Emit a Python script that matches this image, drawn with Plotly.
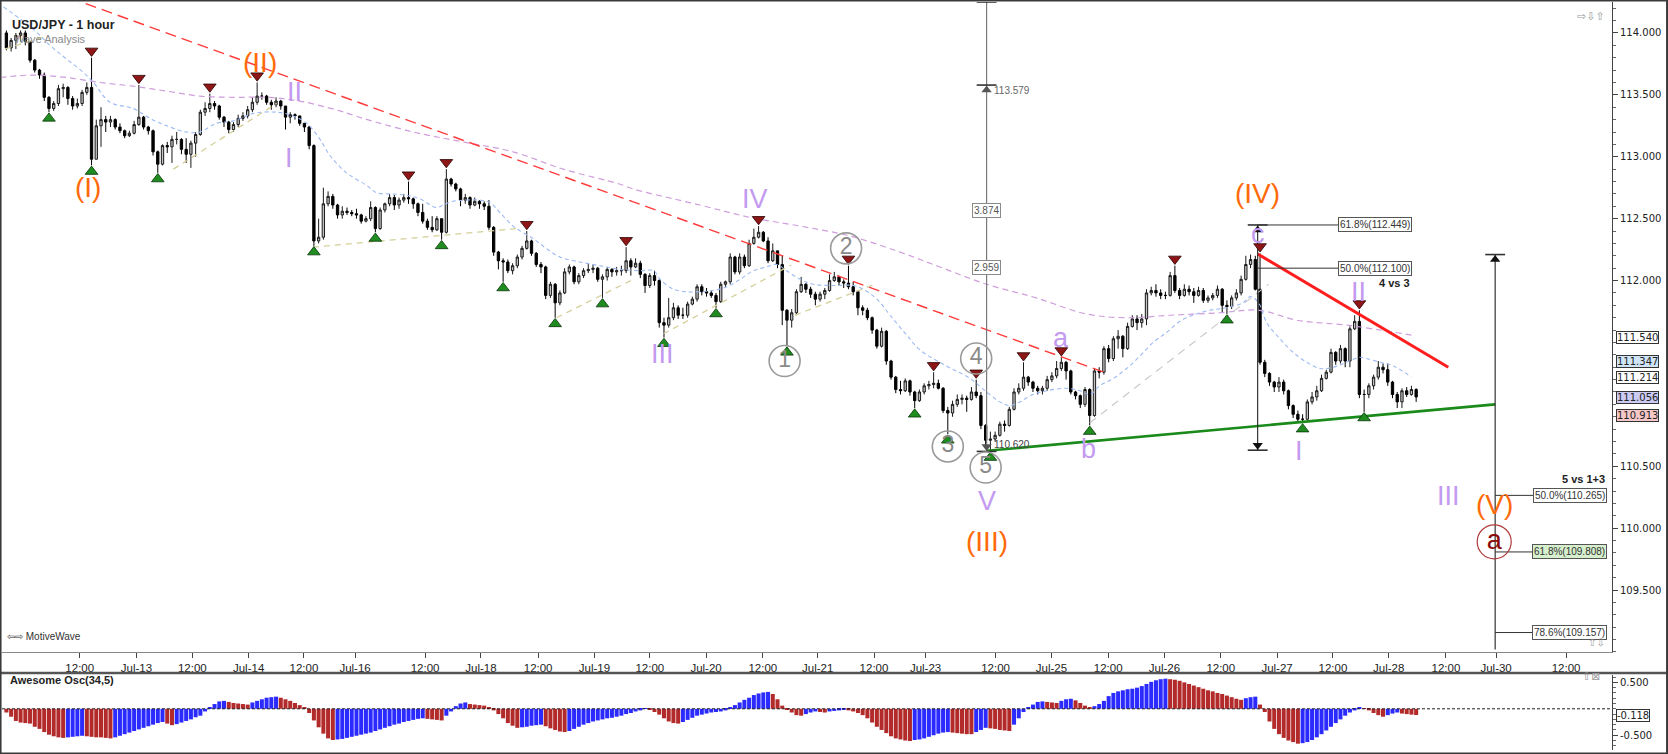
import plotly.graph_objects as go

FONT = "Liberation Sans, Arial, sans-serif"
AXFONT = "DejaVu Sans, Verdana, sans-serif"

# ── Hourly USD/JPY candles (x = bar number, weekend hours skipped) ─────────────
first_open = 114.00
closes = [
    113.88, 113.94, 113.98, 114.00, 113.93, 113.78, 113.70, 113.66, 113.48, 113.39,
    113.43, 113.55, 113.56, 113.47, 113.41, 113.43, 113.52, 113.56, 112.98, 113.25,
    113.30, 113.28, 113.30, 113.24, 113.21, 113.17, 113.19, 113.26, 113.32, 113.24,
    113.21, 113.04, 112.94, 113.09, 113.08, 113.14, 113.14, 113.06, 113.02, 113.11,
    113.18, 113.36, 113.39, 113.43, 113.41, 113.32, 113.28, 113.22, 113.26, 113.31,
    113.33, 113.38, 113.44, 113.49, 113.49, 113.44, 113.42, 113.45, 113.41, 113.32,
    113.34, 113.33, 113.27, 113.24, 113.09, 112.32, 112.35, 112.62, 112.68, 112.61,
    112.53, 112.56, 112.55, 112.54, 112.53, 112.48, 112.50, 112.59, 112.42, 112.57,
    112.62, 112.67, 112.61, 112.65, 112.67, 112.66, 112.62, 112.55, 112.48, 112.43,
    112.41, 112.50, 112.39, 112.82, 112.78, 112.74, 112.65, 112.67, 112.61, 112.64,
    112.62, 112.60, 112.43, 112.23, 112.16, 112.15, 112.08, 112.12, 112.19, 112.26,
    112.32, 112.22, 112.13, 112.11, 111.88, 111.97, 111.82, 111.90, 112.07, 112.11,
    111.99, 112.04, 112.08, 112.09, 112.10, 112.01, 112.03, 112.09, 112.07, 112.08,
    112.08, 112.16, 112.11, 112.14, 112.05, 111.96, 112.04, 112.00, 111.66, 111.64,
    111.70, 111.78, 111.72, 111.72, 111.81, 111.85, 111.95, 111.91, 111.90, 111.88,
    111.83, 111.97, 111.99, 112.19, 112.07, 112.19, 112.12, 112.30, 112.35, 112.39,
    112.32, 112.16, 112.24, 112.13, 111.76, 111.68, 111.74, 111.91, 111.97, 111.93,
    111.89, 111.85, 111.89, 111.92, 112.00, 112.03, 111.99, 111.98, 111.95, 111.91,
    111.78, 111.76, 111.70, 111.60, 111.47, 111.59, 111.35, 111.22, 111.12, 111.11,
    111.19, 111.10, 111.03, 111.10, 111.15, 111.16, 111.17, 111.13, 110.95, 110.93,
    111.00, 111.04, 111.05, 111.04, 111.10, 111.07, 110.83, 110.71, 110.72, 110.75,
    110.84, 110.83, 110.96, 111.10, 111.13, 111.22, 111.18, 111.13, 111.11, 111.13,
    111.20, 111.23, 111.29, 111.34, 111.27, 111.10, 111.07, 111.00, 111.12, 110.91,
    111.27, 111.26, 111.45, 111.37, 111.53, 111.55, 111.45, 111.63, 111.69, 111.66,
    111.69, 111.90, 111.92, 111.90, 111.88, 111.88, 112.04, 111.92, 111.88, 111.93,
    111.91, 111.88, 111.92, 111.84, 111.86, 111.88, 111.93, 111.80, 111.79, 111.86,
    111.90, 112.01, 112.13, 112.17, 111.93, 111.34, 111.25, 111.18, 111.14, 111.18,
    111.11, 110.99, 110.92, 110.88, 110.88, 111.02, 111.06, 111.11, 111.21, 111.26,
    111.42, 111.35, 111.45, 111.35, 111.61, 111.67, 111.08, 111.08, 111.15, 111.22,
    111.30, 111.28, 111.18, 111.08, 111.02, 111.11, 111.08, 111.12, 111.06,
]
highs = [
    114.02, 113.96, 114.00, 114.02, 114.02, 113.93, 113.79, 113.71, 113.68, 113.49,
    113.45, 113.58, 113.59, 113.57, 113.49, 113.47, 113.54, 113.60, 113.80, 113.30,
    113.40, 113.33, 113.33, 113.31, 113.27, 113.22, 113.21, 113.29, 113.58, 113.33,
    113.25, 113.22, 113.05, 113.10, 113.12, 113.17, 113.20, 113.15, 113.15, 113.13,
    113.20, 113.38, 113.44, 113.51, 113.45, 113.42, 113.33, 113.29, 113.28, 113.34,
    113.36, 113.41, 113.48, 113.60, 113.52, 113.50, 113.46, 113.48, 113.46, 113.41,
    113.36, 113.35, 113.33, 113.27, 113.25, 113.10, 112.50, 112.75, 112.72, 112.70,
    112.62, 112.60, 112.59, 112.57, 112.58, 112.54, 112.52, 112.64, 112.60, 112.59,
    112.63, 112.70, 112.69, 112.67, 112.70, 112.80, 112.67, 112.63, 112.62, 112.50,
    112.52, 112.52, 112.50, 112.90, 112.83, 112.79, 112.75, 112.70, 112.68, 112.67,
    112.65, 112.64, 112.65, 112.44, 112.24, 112.18, 112.17, 112.14, 112.21, 112.28,
    112.40, 112.33, 112.23, 112.15, 112.12, 111.99, 111.98, 111.92, 112.10, 112.13,
    112.12, 112.06, 112.10, 112.14, 112.13, 112.11, 112.05, 112.11, 112.10, 112.11,
    112.12, 112.27, 112.18, 112.18, 112.16, 112.06, 112.06, 112.08, 112.01, 111.70,
    111.86, 111.82, 111.80, 111.78, 111.83, 111.87, 111.97, 111.97, 111.94, 111.92,
    111.90, 111.99, 112.00, 112.22, 112.20, 112.22, 112.21, 112.33, 112.42, 112.44,
    112.40, 112.35, 112.30, 112.24, 112.20, 111.77, 111.77, 111.93, 112.03, 111.98,
    111.95, 111.91, 111.91, 111.94, 112.05, 112.07, 112.04, 112.01, 112.12, 111.99,
    111.92, 111.80, 111.78, 111.71, 111.61, 111.62, 111.60, 111.36, 111.23, 111.19,
    111.21, 111.20, 111.11, 111.12, 111.17, 111.19, 111.26, 111.20, 111.14, 110.98,
    111.03, 111.08, 111.08, 111.07, 111.14, 111.20, 111.10, 110.84, 110.78, 110.78,
    110.86, 110.87, 110.98, 111.13, 111.17, 111.34, 111.23, 111.19, 111.15, 111.15,
    111.23, 111.26, 111.35, 111.38, 111.35, 111.28, 111.11, 111.08, 111.14, 111.13,
    111.29, 111.30, 111.47, 111.48, 111.55, 111.60, 111.56, 111.66, 111.72, 111.72,
    111.73, 111.93, 111.95, 111.97, 111.93, 111.91, 112.07, 112.12, 111.94, 111.97,
    111.96, 111.94, 111.95, 111.94, 111.88, 111.90, 111.96, 111.94, 111.84, 111.88,
    111.93, 112.04, 112.20, 112.21, 112.20, 112.22, 111.36, 111.26, 111.19, 111.22,
    111.20, 111.12, 111.00, 110.95, 110.92, 111.04, 111.10, 111.15, 111.24, 111.28,
    111.45, 111.43, 111.48, 111.46, 111.63, 111.72, 111.76, 111.12, 111.17, 111.24,
    111.35, 111.33, 111.33, 111.19, 111.10, 111.13, 111.14, 111.15, 111.13,
]
lows = [
    113.86, 113.85, 113.87, 113.93, 113.90, 113.76, 113.68, 113.63, 113.45, 113.36,
    113.37, 113.41, 113.48, 113.42, 113.38, 113.39, 113.41, 113.50, 112.93, 112.98,
    113.08, 113.20, 113.24, 113.22, 113.19, 113.15, 113.16, 113.18, 113.25, 113.22,
    113.18, 113.01, 112.87, 112.93, 113.03, 112.95, 113.10, 113.02, 112.95, 112.91,
    113.00, 113.17, 113.33, 113.36, 113.38, 113.30, 113.24, 113.19, 113.20, 113.24,
    113.29, 113.31, 113.36, 113.42, 113.46, 113.42, 113.38, 113.40, 113.38, 113.22,
    113.27, 113.30, 113.25, 113.20, 113.06, 112.28, 112.30, 112.33, 112.60, 112.58,
    112.50, 112.50, 112.53, 112.52, 112.50, 112.46, 112.47, 112.48, 112.39, 112.41,
    112.55, 112.60, 112.57, 112.58, 112.63, 112.62, 112.58, 112.52, 112.46, 112.41,
    112.39, 112.40, 112.33, 112.38, 112.76, 112.72, 112.60, 112.62, 112.58, 112.60,
    112.58, 112.57, 112.41, 112.20, 112.09, 111.99, 112.06, 112.05, 112.10, 112.17,
    112.25, 112.20, 112.11, 112.06, 111.85, 111.86, 111.70, 111.80, 111.89, 112.05,
    111.97, 111.97, 112.02, 112.06, 112.06, 111.99, 111.86, 112.00, 112.03, 112.04,
    112.04, 112.06, 112.04, 112.10, 112.02, 111.90, 111.94, 111.96, 111.62, 111.54,
    111.62, 111.68, 111.69, 111.69, 111.70, 111.80, 111.83, 111.88, 111.87, 111.86,
    111.78, 111.82, 111.95, 111.97, 112.05, 112.05, 112.10, 112.11, 112.29, 112.34,
    112.31, 112.14, 112.15, 112.10, 111.64, 111.47, 111.62, 111.72, 111.90, 111.90,
    111.86, 111.80, 111.83, 111.85, 111.91, 111.99, 111.96, 111.94, 111.93, 111.88,
    111.72, 111.72, 111.68, 111.57, 111.45, 111.46, 111.32, 111.20, 111.09, 111.08,
    111.10, 111.07, 110.97, 111.02, 111.08, 111.12, 111.13, 111.12, 110.93, 110.76,
    110.90, 110.98, 111.00, 110.94, 111.03, 111.05, 110.80, 110.66, 110.62, 110.70,
    110.74, 110.78, 110.82, 110.95, 111.08, 111.11, 111.15, 111.10, 111.08, 111.08,
    111.11, 111.18, 111.21, 111.27, 111.20, 111.08, 111.04, 110.97, 110.98, 110.83,
    110.90, 111.21, 111.24, 111.34, 111.35, 111.45, 111.38, 111.44, 111.62, 111.60,
    111.62, 111.64, 111.88, 111.87, 111.85, 111.85, 111.87, 111.90, 111.85, 111.87,
    111.88, 111.82, 111.87, 111.82, 111.82, 111.84, 111.86, 111.74, 111.73, 111.77,
    111.84, 111.88, 112.00, 112.10, 111.92, 111.32, 111.22, 111.15, 111.10, 111.10,
    111.08, 110.96, 110.89, 110.86, 110.85, 110.87, 111.00, 111.03, 111.10, 111.20,
    111.25, 111.32, 111.33, 111.30, 111.30, 111.60, 111.05, 110.94, 111.05, 111.12,
    111.20, 111.25, 111.15, 111.05, 110.97, 110.97, 111.06, 111.07, 111.02,
]

# Awesome Oscillator (34,5), one value per bar
ao_values = [
    -0.07, -0.15, -0.23, -0.26, -0.27, -0.28, -0.34, -0.38, -0.44, -0.49, -0.52, -0.54,
    -0.55, -0.54, -0.53, -0.52, -0.51,
    -0.52, -0.53, -0.54, -0.54, -0.55, -0.56,
    -0.54, -0.51, -0.48, -0.45, -0.42, -0.39, -0.36, -0.33, -0.30, -0.27, -0.25,
    -0.28, -0.31,
    -0.29, -0.26, -0.23, -0.20, -0.16, -0.13, -0.05,
    0.03, 0.09, 0.14, 0.15,
    0.13, 0.11, 0.10, 0.09, 0.08,
    0.12, 0.15, 0.18, 0.21, 0.22, 0.23,
    0.21, 0.18, 0.15, 0.11, 0.07, 0.03,
    -0.08, -0.22, -0.35, -0.47, -0.56, -0.59,
    -0.58, -0.57, -0.55, -0.53, -0.51, -0.49, -0.47, -0.45, -0.42, -0.39,
    -0.36, -0.33, -0.30, -0.28, -0.25, -0.23, -0.21, -0.19, -0.18,
    -0.19, -0.20, -0.21, -0.22,
    -0.13, -0.05,
    0.05, 0.10, 0.12,
    0.09, 0.08, 0.07, 0.06, 0.02,
    -0.03, -0.10, -0.18, -0.27, -0.32, -0.36,
    -0.35, -0.34, -0.32, -0.31, -0.30,
    -0.33, -0.37, -0.40, -0.43, -0.44,
    -0.42, -0.38, -0.34, -0.30, -0.27, -0.24, -0.22, -0.20, -0.18, -0.17,
    -0.15, -0.13, -0.10, -0.08, -0.05, -0.03,
    0.01,
    -0.01,
    -0.06, -0.11, -0.18, -0.24, -0.27, -0.28,
    -0.25, -0.21, -0.17, -0.13, -0.11, -0.09, -0.07, -0.06, -0.05, -0.03,
    0.03, 0.07, 0.12, 0.17, 0.21, 0.26, 0.29, 0.31, 0.32,
    0.28, 0.18, 0.06, -0.02,
    -0.07, -0.12, -0.13,
    -0.10, -0.07, -0.05,
    -0.06, -0.07, -0.05, -0.04, -0.03, -0.02, -0.03,
    -0.05, -0.08, -0.12, -0.18, -0.26, -0.34, -0.40, -0.46, -0.52, -0.56, -0.58, -0.60, -0.61,
    -0.59, -0.58, -0.56, -0.53, -0.50, -0.47, -0.45, -0.44,
    -0.45, -0.46, -0.47, -0.48, -0.48,
    -0.44, -0.40, -0.36,
    -0.37, -0.38, -0.40, -0.41, -0.42,
    -0.30, -0.18, -0.06, 0.03,
    0.08, 0.13, 0.14,
    0.13, 0.12, 0.11,
    0.15, 0.18, 0.19,
    0.16, 0.11, 0.06, 0.03,
    0.05, 0.09,
    0.15, 0.24, 0.30, 0.33, 0.35, 0.37, 0.38, 0.40, 0.43, 0.47, 0.51, 0.54, 0.56, 0.57,
    0.56, 0.55, 0.53, 0.50, 0.47, 0.44, 0.41, 0.38, 0.35, 0.33, 0.30, 0.28, 0.25, 0.22,
    0.19, 0.17,
    0.20, 0.22, 0.23,
    0.08,
    -0.06, -0.24, -0.38, -0.48, -0.55, -0.60, -0.63, -0.66,
    -0.65, -0.63, -0.59, -0.54, -0.48, -0.41, -0.34, -0.27, -0.20, -0.13, -0.07, -0.03,
    0.03,
    0.01, -0.03, -0.08, -0.12, -0.15,
    -0.12, -0.09, -0.07,
    -0.09, -0.10, -0.11, -0.118,
]

# time axis labels
tick_bars = [15.5, 27.5, 39.3, 51.2, 62.9, 73.7, 88.5, 100.3, 112.4, 124.3, 136.0,
             147.9, 159.9, 171.5, 183.4, 194.3, 209.1, 220.9, 232.9, 244.8, 256.7,
             268.6, 280.4, 292.2, 304.3, 314.9, 329.7]
tick_labels = ["12:00", "Jul-13", "12:00", "Jul-14", "12:00", "Jul-16", "12:00", "Jul-18",
               "12:00", "Jul-19", "12:00", "Jul-20", "12:00", "Jul-21", "12:00", "Jul-23",
               "12:00", "Jul-25", "12:00", "Jul-26", "12:00", "Jul-27", "12:00", "Jul-28",
               "12:00", "Jul-30", "12:00"]
# price labels shown on the axis (111.000 / 111.500 sit under the price tags)
price_ticks = [109.5, 110.0, 110.5, 112.0, 112.5, 113.0, 113.5, 114.0]

# moving averages as drawn on the chart
blue_ma_bars = [-0.6, 5.7, 9.2, 12.7, 16.3, 18.4, 21.9, 26.8, 30.4, 33.9, 38.1, 40.9, 44.4,
                48.0, 52.2, 57.1, 60.6, 63.5, 66.3, 68.4, 71.9, 76.1, 78.2, 81.0, 84.6, 87.4,
                90.9, 92.3, 94.4, 97.2, 100.1, 102.2, 104.3, 107.1, 111.3, 114.1, 117.0,
                121.2, 125.4, 129.7, 134.0, 136.8, 138.2, 141.0, 143.8, 146.6, 149.4, 152.3,
                155.1, 157.9, 160.7, 162.8, 164.9, 167.8, 170.6, 174.8, 179.0, 181.1, 184.0,
                186.8, 190.3, 193.1, 198.7, 203.7, 207.2, 210.0, 212.1, 214.2, 217.0, 219.9,
                224.1, 226.9, 229.0, 231.1, 234.0, 236.8, 239.6, 242.4, 245.2, 248.0, 250.8,
                254.4, 257.9, 261.4, 263.0, 264.7, 266.4, 269.2, 272.0, 274.9, 277.7, 280.5,
                283.3, 286.1, 287.5, 290.4, 293.2, 297.0]
blue_ma_vals = [114.21, 114.03, 113.90, 113.79, 113.68, 113.60, 113.44, 113.39, 113.31,
                113.25, 113.20, 113.20, 113.27, 113.29, 113.35, 113.36, 113.33, 113.27,
                113.14, 113.01, 112.87, 112.77, 112.71, 112.70, 112.69, 112.66, 112.59,
                112.61, 112.64, 112.65, 112.65, 112.63, 112.55, 112.44, 112.34, 112.26,
                112.19, 112.15, 112.12, 112.09, 112.08, 112.08, 112.01, 111.93, 111.91,
                111.91, 111.92, 111.95, 112.01, 112.08, 112.11, 112.13, 112.08, 112.01,
                111.97, 111.96, 111.96, 111.93, 111.85, 111.72, 111.56, 111.44, 111.31,
                111.21, 111.10, 111.02, 110.99, 111.02, 111.08, 111.11, 111.13, 111.11,
                111.08, 111.15, 111.21, 111.29, 111.39, 111.50, 111.58, 111.67, 111.72,
                111.76, 111.78, 111.82, 111.87, 111.82, 111.66, 111.53, 111.42, 111.34,
                111.29, 111.30, 111.34, 111.38, 111.37, 111.34, 111.31, 111.22]
purple_ma_bars = [-1.3, 5.7, 12.7, 19.8, 26.8, 33.9, 40.9, 48.0, 55.0, 62.0, 70.5, 75.4,
                  86.0, 96.5, 107.1, 117.7, 129.6, 132.5, 146.6, 157.2, 167.8, 178.3,
                  188.9, 197.3, 207.2, 217.7, 228.3, 236.8, 245.9, 256.5, 264.9, 272.7,
                  283.3, 297.0]
purple_ma_vals = [113.64, 113.66, 113.64, 113.60, 113.57, 113.53, 113.49, 113.48, 113.48,
                  113.45, 113.37, 113.31, 113.20, 113.12, 113.04, 112.90, 112.78, 112.74,
                  112.61, 112.51, 112.44, 112.36, 112.23, 112.11, 111.97, 111.86, 111.73,
                  111.70, 111.72, 111.74, 111.76, 111.68, 111.64, 111.56]

# hand-drawn trend lines: [start, end] pairs
red_dash_bars = [10, 232]
red_dash_prices = [114.33, 111.26]
beige_bars = [[-0.3, 7.5], [35.3, 57.1], [64.8, 107.8], [116.3, 132.5], [138.9, 165.9], [166.7, 183.6]]
beige_prices = [[113.87, 113.965], [112.90, 113.43], [112.27, 112.42], [111.70, 112.01],
                [111.57, 112.126], [111.72, 111.97]]
gray_dash_bars = [229, 266.8]
gray_dash_prices = [110.85, 111.97]
green_line_bars = [207.2, 314.7]
green_line_prices = [110.625, 111.00]
red_line_bars = [264.5, 304.8]
red_line_prices = [112.215, 111.30]

# swing markers
swing_high_bars = [18, 28, 43, 53, 85, 93, 110, 131, 159, 178, 196, 205, 215, 223, 247, 265, 286]
swing_low_bars = [9, 18, 32, 65, 78, 92, 105, 116, 126, 139, 150, 165, 192, 199, 208, 229, 258, 274, 287]

# wave labels
orange_labels = ["(I)", "(II)", "(III)", "(IV)", "(V)"]
orange_bars = [17.3, 53.7, 207.2, 264.5, 314.5]
orange_prices = [112.75, 113.76, 109.89, 112.70, 110.19]
purple_labels = ["I", "II", "III", "IV", "V", "a", "b", "c", "I", "II", "III"]
purple_bars = [59.8, 60.9, 138.7, 158.2, 207.2, 222.9, 228.7, 264.5, 273.3, 285.9, 304.8]
purple_prices = [112.99, 113.52, 111.41, 112.66, 110.22, 111.54, 110.64, 112.38, 110.62, 111.91, 110.26]
circle_labels = ["1", "2", "3", "4", "5"]
circle_bars = [164.5, 177.5, 199.0, 205.0, 207.0]
circle_prices = [111.35, 112.26, 110.66, 111.37, 110.49]

# measuring tool
measure_bars = [207.2, 264.5, 314.7]
measure_tops = [114.25, 112.449, 112.21]
measure_bottoms = [110.62, 110.63, 109.02]
target_price = 113.579
range_boxes = ["3.874", "2.959"]
range_box_prices = [112.565, 112.107]
fib_labels = ["61.8%(112.449)", "50.0%(112.100)", "50.0%(110.265)", "61.8%(109.808)", "78.6%(109.157)"]
fib_prices = [112.449, 112.100, 110.265, 109.808, 109.157]
fib_start_bars = [264.5, 264.5, 314.7, 314.7, 314.7]
fib_box_bars = [289.2, 289.2, 330.5, 330.5, 330.5]
fib_box_fills = ["#ffffff", "#ffffff", "#ffffff", "#d6efcc", "#ffffff"]

# price tags on the right axis
tag_prices = [111.540, 111.347, 111.214, 111.056, 110.913]
tag_fills = ["#ffffff", "#cfe5f5", "#ffffff", "#cbcbf3", "#f5c7c7"]

# ── build ─────────────────────────────────────────────────────────────────────
n = len(closes)
bars = list(range(n))
opens = [first_open] + closes[:-1]  # each hour opens where the previous one closed


def segments(xpairs, ypairs):
    xs, ys = [], []
    for xp, yp in zip(xpairs, ypairs):
        xs += list(xp) + [None]
        ys += list(yp) + [None]
    return xs, ys


def line(x, y, color, width, dash="solid", shape="linear"):
    return go.Scatter(x=x, y=y, mode="lines", hoverinfo="skip",
                      line=dict(color=color, width=width, dash=dash, shape=shape),
                      xaxis="x", yaxis="y")


fig = go.Figure()

fig.add_trace(line(purple_ma_bars, purple_ma_vals, "#cf9edc", 1.2, "6px,4px", "spline"))
fig.add_trace(line(blue_ma_bars, blue_ma_vals, "#9dbaf2", 1.1, "4px,3px", "spline"))
fig.add_trace(line(red_dash_bars, red_dash_prices, "#ff3b3b", 1.4, "11px,6px"))
bx, by = segments(beige_bars, beige_prices)
fig.add_trace(line(bx, by, "#d4cf98", 1.3, "6px,5px"))
fig.add_trace(line(gray_dash_bars, gray_dash_prices, "#c6c6c6", 1.1, "8px,6px"))

fig.add_trace(go.Candlestick(
    x=bars, open=opens, high=highs, low=lows, close=closes,
    increasing=dict(fillcolor="#c2c2c2", line=dict(color="#1a1a1a", width=1)),
    decreasing=dict(fillcolor="#000000", line=dict(color="#000000", width=1)),
    whiskerwidth=0, hoverinfo="skip", xaxis="x", yaxis="y",
))

fig.add_trace(line(green_line_bars, green_line_prices, "#1a8a1a", 2.6))
fig.add_trace(line(red_line_bars, red_line_prices, "#ff1e1e", 3))

# measuring lines, caps and arrows
mx, my = segments([[b, b] for b in measure_bars],
                  [[t, bt] for t, bt in zip(measure_tops, measure_bottoms)])
fig.add_trace(line(mx[:3], my[:3], "#7a7a7a", 1.2))
fig.add_trace(line(mx[3:], my[3:], "#222222", 1.1))
cap_x, cap_y = segments(
    [[b - 2.1, b + 2.1] for b in measure_bars] + [[b - 2.1, b + 2.1] for b in measure_bars[:2]]
    + [[measure_bars[0] - 2.1, measure_bars[0] + 2.1]],
    [[t, t] for t in measure_tops] + [[bt, bt] for bt in measure_bottoms[:2]]
    + [[target_price, target_price]],
)
fig.add_trace(line(cap_x, cap_y, "#333333", 1.6))
fx, fy = segments([[s, b] for s, b in zip(fib_start_bars, fib_box_bars)],
                  [[p, p] for p in fib_prices])
fig.add_trace(line(fx, fy, "#333333", 1))
fig.add_trace(go.Scatter(
    x=[measure_bars[0], measure_bars[1], measure_bars[2]],
    y=[target_price - 0.04, measure_tops[1] - 0.04, measure_tops[2] - 0.04],
    mode="markers", hoverinfo="skip", xaxis="x", yaxis="y",
    marker=dict(symbol="triangle-up", size=9, color=["#555", "#111", "#111"]),
))
fig.add_trace(go.Scatter(
    x=measure_bars[:2], y=[b + 0.04 for b in measure_bottoms[:2]],
    mode="markers", hoverinfo="skip", xaxis="x", yaxis="y",
    marker=dict(symbol="triangle-down", size=9, color=["#555", "#111"]),
))

# swing markers
fig.add_trace(go.Scatter(
    x=swing_high_bars, y=[highs[i] + 0.055 for i in swing_high_bars],
    mode="markers", hoverinfo="skip", xaxis="x", yaxis="y",
    marker=dict(symbol="triangle-down", size=11, color="#8e1616",
                line=dict(color="#2a0000", width=0.8)),
))
fig.add_trace(go.Scatter(
    x=swing_low_bars, y=[lows[i] - 0.05 for i in swing_low_bars],
    mode="markers", hoverinfo="skip", xaxis="x", yaxis="y",
    marker=dict(symbol="triangle-up", size=11, color="#1f8c1f",
                line=dict(color="#0a330a", width=0.8)),
))

# circled minor waves
fig.add_trace(go.Scatter(
    x=circle_bars, y=circle_prices, text=circle_labels, mode="markers+text",
    textposition="middle center", hoverinfo="skip", xaxis="x", yaxis="y",
    textfont=dict(family=FONT, size=23, color="#8a8a8a"),
    marker=dict(symbol="circle-open", size=31, color="#9a9a9a", line=dict(width=1.6)),
))
fig.add_trace(go.Scatter(
    x=[orange_bars[4]], y=[109.89], text=["a"], mode="markers+text",
    textposition="middle center", hoverinfo="skip", xaxis="x", yaxis="y",
    textfont=dict(family=FONT, size=27, color="#8b0a0a"),
    marker=dict(symbol="circle-open", size=34, color="#b03a3a", line=dict(width=1.2)),
))

# oscillator
ao_colors = ["#b22a2a"] + ["#2b2bff" if ao_values[i] > ao_values[i - 1] else "#b22a2a"
                           for i in range(1, len(ao_values))]
fig.add_trace(go.Bar(x=bars[:len(ao_values)], y=ao_values, marker=dict(color=ao_colors, line=dict(width=0)),
                     hoverinfo="skip", xaxis="x2", yaxis="y2"))

ann = []
for t, b, p in zip(orange_labels, orange_bars, orange_prices):
    ann.append(dict(x=b, y=p, xref="x", yref="y", text=t, showarrow=False,
                    font=dict(family=FONT, size=28, color="#ff6a0a")))
for t, b, p in zip(purple_labels, purple_bars, purple_prices):
    ann.append(dict(x=b, y=p, xref="x", yref="y", text=t, showarrow=False,
                    font=dict(family=FONT, size=27, color="#c39af0")))
for t, p in zip(range_boxes, range_box_prices):
    ann.append(dict(x=measure_bars[0], y=p, xref="x", yref="y", text=t, showarrow=False,
                    bgcolor="#ffffff", bordercolor="#8a8a8a", borderwidth=1, borderpad=1,
                    font=dict(family=FONT, size=10, color="#555")))
for t, b, p, c in zip(fib_labels, fib_box_bars, fib_prices, fib_box_fills):
    ann.append(dict(x=b, y=p, xref="x", yref="y", text=t, showarrow=False,
                    bgcolor=c, bordercolor="#555", borderwidth=1, borderpad=1,
                    font=dict(family=FONT, size=10, color="#333")))
ann += [
    dict(x=measure_bars[0] + 1.2, y=target_price - 0.045, xref="x", yref="y", text="113.579",
         showarrow=False, xanchor="left", font=dict(family=FONT, size=10, color="#666")),
    dict(x=measure_bars[0] + 1.2, y=110.675, xref="x", yref="y", text="110.620",
         showarrow=False, xanchor="left", font=dict(family=FONT, size=10, color="#444")),
    dict(x=293.5, y=111.98, xref="x", yref="y", text="<b>4 vs 3</b>", showarrow=False,
         font=dict(family=FONT, size=11, color="#222")),
    dict(x=333.4, y=110.40, xref="x", yref="y", text="<b>5 vs 1+3</b>", showarrow=False,
         font=dict(family=FONT, size=11, color="#222")),
    dict(x=0.005, y=0.981, xref="paper", yref="paper", text="<b>USD/JPY - 1 hour</b>",
         showarrow=False, xanchor="left", font=dict(family=FONT, size=12.5, color="#222")),
    dict(x=0.006, y=0.961, xref="paper", yref="paper", text="Wave Analysis",
         showarrow=False, xanchor="left", font=dict(family=FONT, size=11, color="#8a8a8a")),
    dict(x=0.002, y=0.143, xref="paper", yref="paper", text="⇦⇨ MotiveWave",
         showarrow=False, xanchor="left", font=dict(family=FONT, size=10, color="#333")),
    dict(x=0.004, y=0.084, xref="paper", yref="paper", text="<b>Awesome Osc(34,5)</b>",
         showarrow=False, xanchor="left", font=dict(family=FONT, size=11, color="#222")),
    dict(x=0.997, y=0.992, xref="paper", yref="paper", text="⇨⇩⇧", showarrow=False,
         xanchor="right", font=dict(family=AXFONT, size=11, color="#999")),
    dict(x=0.997, y=0.1355, xref="paper", yref="paper", text="⇧⇩", showarrow=False,
         xanchor="right", font=dict(family=AXFONT, size=10, color="#999")),
    dict(x=0.994, y=0.088, xref="paper", yref="paper", text="⇧⊠", showarrow=False,
         xanchor="right", font=dict(family=AXFONT, size=11, color="#999")),
    dict(x=1, y=-0.118, xref="paper", yref="y2", text="-0.118", showarrow=False,
         xanchor="left", xshift=4, bgcolor="#ffffff", bordercolor="#333", borderwidth=1,
         borderpad=0, font=dict(family=AXFONT, size=10, color="#222")),
]
for p, c in zip(tag_prices, tag_fills):
    ann.append(dict(x=1, y=p, xref="paper", yref="y", text=f"{p:.3f}", showarrow=False,
                    xanchor="left", xshift=4, bgcolor=c, bordercolor="#333", borderwidth=1,
                    borderpad=0, font=dict(family=AXFONT, size=10, color="#222")))

shapes = [
    dict(type="line", xref="paper", yref="y2", x0=0, x1=1, y0=0, y1=0,
         line=dict(color="#222", width=1, dash="3px,2px")),
    dict(type="line", xref="paper", yref="paper", x0=-0.002, x1=1.035, y0=0.1041, y1=0.1041,
         line=dict(color="#555", width=2.5)),
    dict(type="rect", xref="paper", yref="paper", x0=-0.0009, x1=1.0342, y0=-0.0033, y1=1.002,
         line=dict(color="#3a3a3a", width=2)),
]

axis_common = dict(showgrid=False, zeroline=False, fixedrange=True)
fig.update_layout(
    width=1668, height=754,
    margin=dict(l=2, r=56, t=2, b=3),
    paper_bgcolor="#ffffff", plot_bgcolor="#ffffff",
    showlegend=False, bargap=0.15,
    xaxis=dict(domain=[0, 1], range=[-0.93, 339.4], anchor="y", tickvals=tick_bars,
               ticktext=tick_labels, ticks="outside", ticklen=5, tickcolor="#444",
               showline=True, linecolor="#888", linewidth=1, rangeslider=dict(visible=False),
               tickfont=dict(family=FONT, size=11.5, color="#222"), **axis_common),
    yaxis=dict(domain=[0.1322, 1.0], range=[109.0, 114.25], side="right", anchor="x",
               tickvals=price_ticks, ticktext=[f"{v:.3f}" for v in price_ticks],
               ticks="outside", ticklen=5,
               tickcolor="#444", showline=True, linecolor="#444", linewidth=1,
               minor=dict(ticks="outside", ticklen=3, tick0=109.0, dtick=0.1, tickcolor="#666"),
               tickfont=dict(family=AXFONT, size=10, color="#222"), **axis_common),
    xaxis2=dict(domain=[0, 1], range=[-0.93, 339.4], anchor="y2", matches="x",
                showticklabels=False, ticks="", showline=False, **axis_common),
    yaxis2=dict(domain=[0.0013, 0.1015], range=[-0.78, 0.64], side="right", anchor="x2",
                tickvals=[0.5, -0.5], ticktext=["0.500", "-0.500"], ticks="outside",
                ticklen=5, tickcolor="#444", showline=True, linecolor="#444", linewidth=1,
                minor=dict(ticks="outside", ticklen=3, dtick=0.1, tickcolor="#666"),
                tickfont=dict(family=AXFONT, size=10, color="#222"), **axis_common),
    annotations=ann,
    shapes=shapes,
)

fig.write_html("out.html", config={"displayModeBar": False},
               post_script="document.body.style.margin='0';document.body.style.overflow='hidden';")
